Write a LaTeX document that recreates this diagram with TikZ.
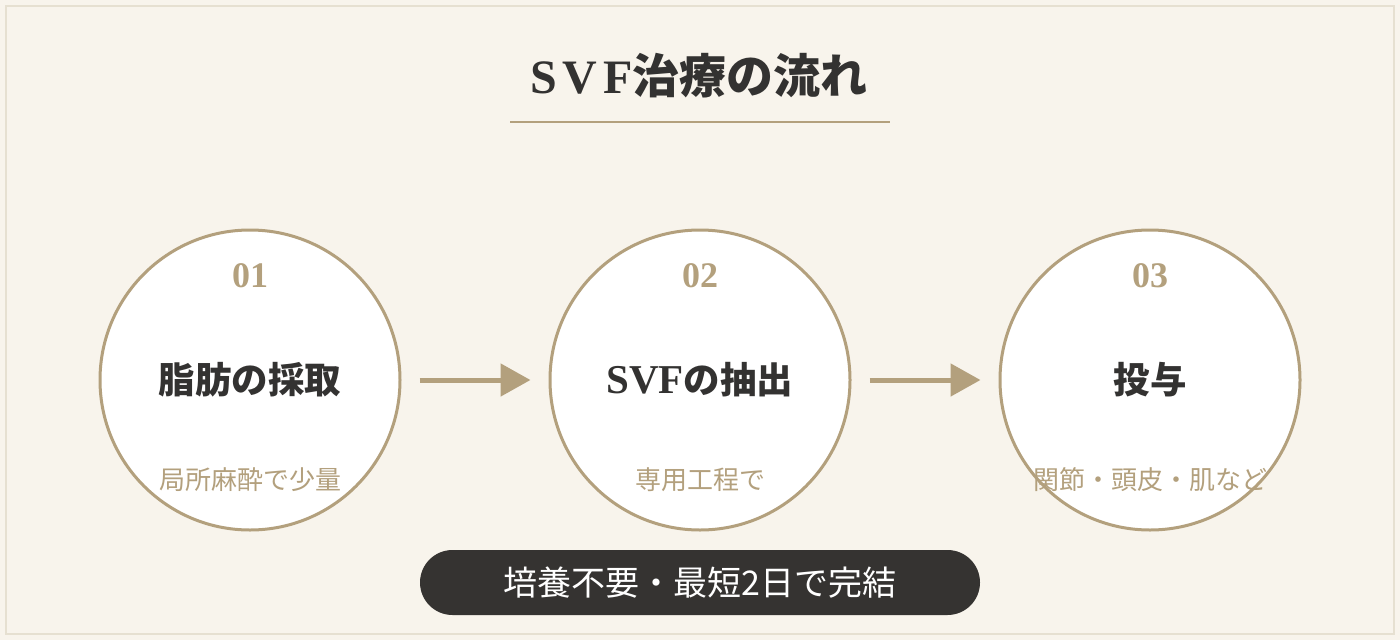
\documentclass[tikz,border=0pt]{standalone}
\usepackage{fontspec}
\newfontfamily\cjk{Noto Sans CJK JP}
\newfontfamily\lat{Liberation Serif}
\usetikzlibrary{arrows.meta}
\definecolor{bgc}{HTML}{F8F4EC}
\definecolor{framec}{HTML}{E6E0D1}
\definecolor{gold}{HTML}{B3A07D}
\definecolor{ink}{HTML}{333231}
\definecolor{pillc}{HTML}{353331}
\tikzset{
  stepcircle/.style={circle, draw=gold, line width=3pt, fill=white, minimum size=300pt, inner sep=0pt},
  numtext/.style={text=gold, font=\lat\bfseries\fontsize{36}{38}\selectfont, inner sep=0pt},
  maintext/.style={text=ink, font=\bfseries\fontsize{36.5}{40}\selectfont, inner sep=0pt},
  subtext/.style={text=gold, font=\cjk\fontsize{26}{29}\selectfont, inner sep=0pt},
  flowarrow/.style={draw=gold, line width=5pt, -{Triangle[length=30pt,width=32pt]}},
}
\begin{document}
\begin{tikzpicture}[x=1pt,y=-1pt]
\useasboundingbox (0,0) rectangle (1400,640);
\fill[bgc] (0,0) rectangle (1400,640);
\draw[framec, line width=2pt] (6,6) rectangle (1394,634);
% title
\node[text=ink, inner sep=0pt] (title) at (699,76) {\bfseries{\lat\fontsize{48}{50}\selectfont\addfontfeature{LetterSpace=12}SVF}{\cjk\fontsize{47}{50}\selectfont 治療の流れ}};
\draw[gold, line width=2pt] (510,122) -- (890,122);
% circles
\node[stepcircle] (c1) at (250,380) {};
\node[stepcircle] (c2) at (700,380) {};
\node[stepcircle] (c3) at (1150,380) {};
\node[numtext] (n1) at (250,276) {01};
\node[numtext] (n2) at (700,276) {02};
\node[numtext] (n3) at (1150,276) {03};
\node[maintext] (m1) at (250,380) {\cjk 脂肪の採取};
\node[maintext] (m2) at (700,380) {{\lat\fontsize{41}{44}\selectfont SVF}{\cjk の抽出}};
\node[maintext] (m3) at (1150,380) {\cjk 投与};
\node[subtext] (s1) at (250,480) {局所麻酔で少量};
\node[subtext] (s2) at (700,480) {専用工程で};
\node[subtext] (s3) at (1150,480) {関節・頭皮・肌など};
% arrows
\draw[flowarrow] ([xshift=18pt]c1.east) -- ([xshift=-18pt]c2.west);
\draw[flowarrow] ([xshift=18pt]c2.east) -- ([xshift=-18pt]c3.west);
% pill
\node[fill=pillc, rounded corners=32.5pt, minimum width=560pt, minimum height=65pt, inner sep=0pt, text=white, font=\cjk\fontsize{34}{38}\selectfont] (pill) at (700,582.5) {培養不要・最短2日で完結};
\end{tikzpicture}
\end{document}
